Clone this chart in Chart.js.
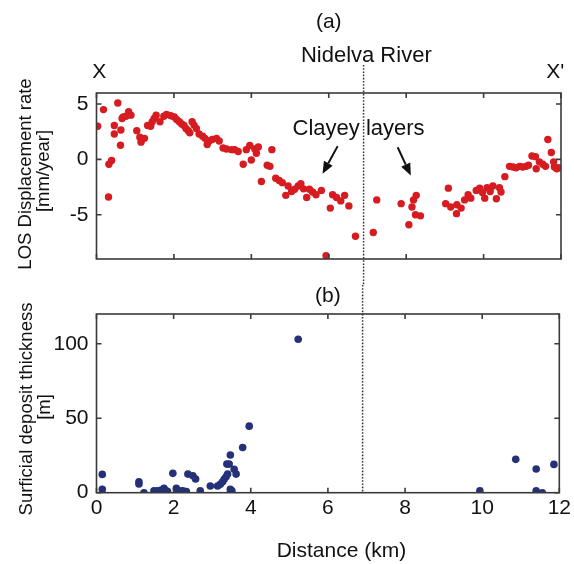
<!DOCTYPE html>
<html>
<head>
<meta charset="utf-8">
<script src="https://cdn.jsdelivr.net/npm/chart.js@4.4.0/dist/chart.umd.min.js"></script>
<style>
    body { margin: 0; background: #fff; }
    #wrap { position: relative; width: 574px; height: 564px; }
    canvas { position: absolute; left: 0; }
</style>
</head>
<body>
<div id="wrap">
    <canvas id="losChart" width="574" height="285" style="top:0"></canvas>
    <canvas id="depositChart" width="574" height="279" style="top:285px"></canvas>
</div>
<script>
// (a) LOS displacement rate along profile X-X'
const losDistance = [
    0.03, 0.18, 0.31, 0.32, 0.39, 0.46, 0.46, 0.55, 0.62, 0.63, 0.66, 0.69, 0.76, 0.83, 0.89,
    1.04, 1.12, 1.15, 1.24, 1.32, 1.40, 1.44, 1.49, 1.54, 1.64, 1.74, 1.81, 1.92,
    2.01, 2.07, 2.14, 2.20, 2.26, 2.31, 2.37, 2.41, 2.47, 2.52, 2.58, 2.65, 2.74, 2.80, 2.86, 2.91, 2.99,
    3.10, 3.17, 3.27, 3.36, 3.49, 3.57, 3.66, 3.79, 3.87, 3.96,
    4.00, 4.09, 4.13, 4.18, 4.26, 4.41, 4.48, 4.53, 4.63, 4.72, 4.80, 4.89, 4.95,
    5.04, 5.12, 5.21, 5.28, 5.35, 5.43, 5.50, 5.58, 5.67, 5.81, 5.93,
    6.04, 6.10, 6.20, 6.31, 6.41, 6.52, 6.69, 7.15, 7.24, 7.87,
    8.07, 8.15, 8.19, 8.24, 8.26, 8.37,
    9.02, 9.09, 9.15, 9.30, 9.31, 9.42, 9.51, 9.60, 9.67, 9.81, 9.90, 9.97,
    10.03, 10.09, 10.17, 10.24, 10.33, 10.41, 10.45, 10.55, 10.67, 10.76, 10.84, 10.93,
    11.01, 11.10, 11.16, 11.25, 11.34, 11.36, 11.44, 11.53, 11.60, 11.66, 11.75, 11.81, 11.83, 11.89, 11.94,
];
const losRate = [
    3.0, 4.5, -3.4, -0.44, -0.1, 3.06, 2.3, 5.1, 1.28, 2.66, 3.7, 3.84, 3.9, 4.3, 4.0,
    2.6, 2.0, 1.56, 1.9, 3.06, 3.0, 3.4, 3.7, 4.0, 3.4, 3.9, 4.06, 3.94,
    3.84, 3.6, 3.4, 3.2, 3.06, 2.8, 2.6, 2.4, 3.4, 3.1, 2.8, 2.3, 2.1, 1.9, 1.34, 1.66, 1.8,
    1.9, 1.66, 1.03, 0.94, 0.88, 0.88, 0.72, -0.44, 0.88, 1.25,
    -0.06, 0.94, 0.56, 1.12, -2.0, -0.53, -0.63, 0.88, -1.7, -1.9, -2.1, -3.25, -2.4,
    -2.9, -2.7, -2.4, -2.2, -2.66, -3.44, -2.7, -2.94, -3.2, -2.8, -8.7,
    -4.4, -3.2, -3.44, -3.75, -3.25, -4.2, -6.94, -6.6, -3.66, -4.0,
    -5.9, -4.3, -3.66, -5.0, -3.25, -5.1,
    -4.0, -2.6, -4.3, -4.9, -4.1, -4.4, -3.66, -3.2, -3.5, -2.8, -2.6, -3.0,
    -3.5, -2.56, -2.9, -2.4, -3.56, -2.56, -2.94, -1.56, -0.63, -0.69, -0.75, -0.63,
    -0.69, -0.63, -0.53, 0.31, 0.25, -0.84, -0.22, -0.44, -0.63, 1.8, 0.63, -0.22, -0.69, -0.84, -0.75,
];

// (b) surficial deposit thickness (m)
const depositDistance = [
    0.15, 0.15, 1.10, 1.10, 1.23, 1.49, 1.58, 1.68, 1.75, 1.79, 1.84, 1.98,
    2.07, 2.15, 2.24, 2.33, 2.37, 2.50, 2.57, 2.69, 2.95,
    3.14, 3.21, 3.27, 3.31, 3.36, 3.40, 3.38, 3.44, 3.47, 3.47, 3.47, 3.51, 3.57, 3.62, 3.79, 3.96,
    5.23, 9.94, 10.87, 11.40, 11.40, 11.56, 11.86,
];
const depositThickness = [
    12.3, 2.2, 7.4, 5.8, 0, 1.3, 1.3, 1.8, 2.9, 1.3, 0.9, 13,
    2.9, 1.3, 1.3, 0.7, 12.5, 11.4, 9.2, 1.3, 4.5,
    4.5, 5.6, 7.4, 9, 10.7, 12.5, 19.2, 19.2, 25.3, 2.2, 0, 1.3, 15.7, 12.5, 30.4, 44.7,
    103, 1.3, 22.4, 15.9, 1.3, 0, 19,
];

const distanceTicks = [0, 2, 4, 6, 8, 10, 12];
const rateTicks = [-5, 0, 5];
const thicknessTicks = [0, 50, 100];
const riverKm = 6.9;

const FONT = "'Liberation Sans', Arial, Helvetica, sans-serif";
Chart.defaults.font.family = FONT;
Chart.defaults.color = "#111";

const toPoints = (xs, ys) => xs.map((x, i) => ({ x: x, y: ys[i] }));
const setTicks = (values) => (scale) => {
    scale.ticks = values.map((v) => ({ value: v }));
};

/**
 * Box frame with inward ticks, the dotted river line and free text / arrows
 */
function makeFrame(notes, arrows, riverTop, riverBottom) {
    return {
        id: "profileFrame",
        afterDraw(chart) {
            const { ctx, chartArea: a } = chart;
            const x = chart.scales.x;
            const y = chart.scales.y;
            ctx.save();

            ctx.strokeStyle = "#3a3a3a";
            ctx.lineWidth = 1.6;
            ctx.strokeRect(a.left, a.top, a.right - a.left, a.bottom - a.top);
            ctx.beginPath();
            x.ticks.forEach((t) => {
                const px = x.getPixelForValue(t.value);
                ctx.moveTo(px, a.bottom);
                ctx.lineTo(px, a.bottom - 5);
                ctx.moveTo(px, a.top);
                ctx.lineTo(px, a.top + 5);
            });
            y.ticks.forEach((t) => {
                const py = y.getPixelForValue(t.value);
                ctx.moveTo(a.left, py);
                ctx.lineTo(a.left + 5, py);
                ctx.moveTo(a.right, py);
                ctx.lineTo(a.right - 5, py);
            });
            ctx.stroke();

            // Nidelva River
            const rx = x.getPixelForValue(riverKm);
            ctx.strokeStyle = "#333";
            ctx.lineWidth = 1.5;
            ctx.setLineDash([1.6, 1.6]);
            ctx.beginPath();
            ctx.moveTo(rx, a.top + riverTop);
            ctx.lineTo(rx, a.bottom + riverBottom);
            ctx.stroke();
            ctx.setLineDash([]);

            ctx.fillStyle = "#111";
            ctx.textAlign = "center";
            ctx.textBaseline = "middle";
            notes.forEach((n) => {
                const px = n.km !== undefined ? x.getPixelForValue(n.km) : a.left + n.dx;
                const py = a.top + n.dy;
                ctx.font = n.size + "px " + FONT;
                ctx.save();
                ctx.translate(px, py);
                if (n.rotate) ctx.rotate(-Math.PI / 2);
                ctx.fillText(n.text, 0, 0);
                ctx.restore();
            });

            ctx.strokeStyle = "#111";
            ctx.lineWidth = 2;
            arrows.forEach((ar) => {
                const x0 = x.getPixelForValue(ar.from[0]);
                const y0 = y.getPixelForValue(ar.from[1]);
                const x1 = x.getPixelForValue(ar.to[0]);
                const y1 = y.getPixelForValue(ar.to[1]);
                const ang = Math.atan2(y1 - y0, x1 - x0);
                const len = 12;
                const half = 5;
                const bx = x1 - len * Math.cos(ang);
                const by = y1 - len * Math.sin(ang);
                ctx.beginPath();
                ctx.moveTo(x0, y0);
                ctx.lineTo(bx, by);
                ctx.stroke();
                ctx.beginPath();
                ctx.moveTo(x1, y1);
                ctx.lineTo(bx + half * Math.sin(ang), by - half * Math.cos(ang));
                ctx.lineTo(bx - half * Math.sin(ang), by + half * Math.cos(ang));
                ctx.closePath();
                ctx.fill();
            });

            ctx.restore();
        },
    };
}

const losNotes = [
    { text: "(a)", km: 6, dy: -71, size: 21 },
    { text: "Nidelva River", km: 6.97, dy: -37, size: 22 },
    { text: "X", km: 0.07, dy: -21, size: 21 },
    { text: "X'", km: 11.85, dy: -21, size: 21 },
    { text: "Clayey layers", km: 6.77, dy: 36, size: 22 },
    { text: "LOS Displacement rate", dx: -70.5, dy: 81, size: 18.5, rotate: true },
    { text: "[mm/year]", dx: -52.5, dy: 78, size: 18.5, rotate: true },
];
const losArrows = [
    { from: [6.23, 1.2], to: [5.84, -1.3] },
    { from: [7.78, 1.1], to: [8.12, -1.45] },
];
const depositNotes = [
    { text: "(b)", km: 6, dy: -18, size: 21 },
    { text: "Distance (km)", km: 6.35, dy: 237, size: 21 },
    { text: "Surficial deposit thickness", dx: -69.5, dy: 95, size: 18.5, rotate: true },
    { text: "[m]", dx: -52, dy: 93, size: 18.5, rotate: true },
];

function baseOptions(yMin, yMax, yTicks, xHeight, padTop, showX) {
    return {
        responsive: false,
        animation: false,
        layout: { padding: { top: padTop, right: 13, left: 0, bottom: 0 } },
        plugins: { legend: { display: false }, tooltip: { enabled: false } },
        scales: {
            x: {
                type: "linear",
                min: 0,
                max: 12,
                afterBuildTicks: setTicks(distanceTicks),
                afterFit: (s) => { s.height = xHeight; },
                grid: { display: false, drawTicks: false },
                border: { display: false },
                ticks: { display: showX, font: { size: 21 }, padding: 3, maxRotation: 0 },
            },
            y: {
                type: "linear",
                min: yMin,
                max: yMax,
                afterBuildTicks: setTicks(yTicks),
                afterFit: (s) => { s.width = 96.5; },
                grid: { display: false, drawTicks: false },
                border: { display: false },
                ticks: { font: { size: 21 }, padding: 8 },
            },
        },
    };
}

new Chart(document.getElementById("losChart"), {
    type: "scatter",
    data: {
        datasets: [
            {
                data: toPoints(losDistance, losRate),
                backgroundColor: "rgb(214, 28, 32)",
                borderWidth: 0,
                pointRadius: 3.7,
            },
        ],
    },
    options: baseOptions(-9, 6, rateTicks, 26, 93, false),
    plugins: [makeFrame(losNotes, losArrows, -28, 26)],
});

new Chart(document.getElementById("depositChart"), {
    type: "scatter",
    data: {
        datasets: [
            {
                data: toPoints(depositDistance, depositThickness),
                backgroundColor: "rgb(36, 48, 120)",
                borderWidth: 0,
                pointRadius: 3.8,
            },
        ],
    },
    options: baseOptions(0, 120, thicknessTicks, 71.3, 29, true),
    plugins: [makeFrame(depositNotes, [], -29, 0)],
});
</script>
</body>
</html>
